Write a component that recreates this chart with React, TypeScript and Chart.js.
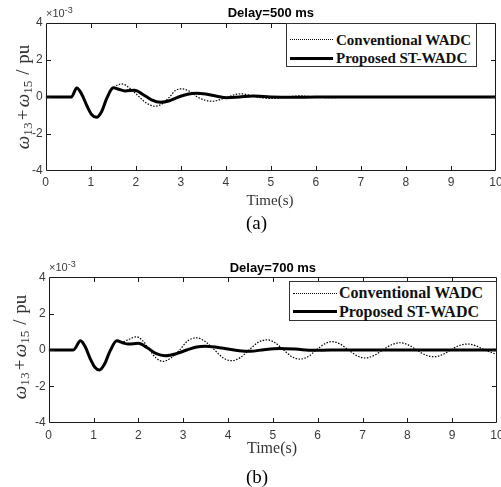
import React, { useEffect, useRef } from 'react';
import { Chart, registerables } from 'chart.js';

Chart.register(...registerables);

// ---------- data (values in units of 1e-3 pu) ----------
const xTicks = [0, 1, 2, 3, 4, 5, 6, 7, 8, 9, 10];
const yTicks = [-4, -2, 0, 2, 4];
const legendLabels = ['Conventional WADC', 'Proposed ST-WADC'];
const titleA = 'Delay=500 ms';
const titleB = 'Delay=700 ms';
const panelTagA = '(a)';
const panelTagB = '(b)';
const xLabel = 'Time(s)';

const timeConvA = [0, 0.57, 0.69, 0.8, 0.92, 1.02, 1.13, 1.24, 1.36, 1.45, 1.52, 1.6, 1.69, 1.8, 1.95, 2.1, 2.25, 2.43, 2.6, 2.75, 2.88, 3.02, 3.2, 3.37, 3.55, 3.72, 3.9, 4.05, 4.2, 4.36, 4.55, 4.7, 5.0, 5.35, 5.65, 6.0, 6.35, 6.7, 7.1, 7.5, 10];
const convA = [0, 0, 0.49, 0.15, -0.5, -0.95, -1.1, -0.8, -0.05, 0.35, 0.5, 0.66, 0.71, 0.6, 0.3, -0.05, -0.35, -0.5, -0.35, 0, 0.35, 0.44, 0.3, 0, -0.18, -0.23, -0.12, 0, 0.13, 0.17, 0.08, 0, -0.08, 0, 0.06, 0, -0.04, 0, 0.02, 0, 0];

const timePropA = [0, 0.57, 0.69, 0.8, 0.92, 1.02, 1.13, 1.24, 1.36, 1.5, 1.62, 1.76, 1.98, 2.15, 2.35, 2.55, 2.75, 2.95, 3.15, 3.35, 3.55, 3.8, 4.02, 4.3, 4.6, 5.0, 5.5, 6.0, 10];
const propA = [0, 0, 0.49, 0.15, -0.5, -0.95, -1.1, -0.8, -0.05, 0.5, 0.42, 0.33, 0.36, 0.15, -0.15, -0.28, -0.2, 0, 0.15, 0.2, 0.16, 0.04, -0.04, 0, 0.05, 0, -0.02, 0, 0];

const timeConvB = [0, 0.55, 0.71, 0.82, 0.93, 1.03, 1.13, 1.24, 1.37, 1.52, 1.64, 1.8, 1.96, 2.1, 2.25, 2.4, 2.55, 2.72, 2.92, 3.1, 3.3, 3.5, 3.7, 3.9, 4.08, 4.27, 4.47, 4.67, 4.87, 5.05, 5.24, 5.43, 5.61, 5.79, 5.97, 6.15, 6.32, 6.5, 6.69, 6.88, 7.06, 7.25, 7.45, 7.65, 7.84, 8.02, 8.21, 8.4, 8.6, 8.78, 8.97, 9.15, 9.35, 9.53, 9.72, 10];
const convB = [0, 0, 0.51, 0.15, -0.5, -0.95, -1.1, -0.8, -0.05, 0.51, 0.45, 0.6, 0.73, 0.5, 0, -0.45, -0.63, -0.45, 0, 0.5, 0.67, 0.45, 0, -0.45, -0.59, -0.42, 0, 0.42, 0.56, 0.4, 0, -0.38, -0.5, -0.36, 0, 0.33, 0.46, 0.33, 0, -0.32, -0.44, -0.31, 0, 0.29, 0.4, 0.28, 0, -0.27, -0.37, -0.26, 0, 0.24, 0.33, 0.23, 0, -0.25];

const timePropB = [0, 0.55, 0.71, 0.82, 0.93, 1.03, 1.13, 1.24, 1.37, 1.52, 1.65, 1.78, 2.0, 2.2, 2.4, 2.6, 2.85, 3.08, 3.3, 3.49, 3.75, 4.0, 4.25, 4.5, 4.8, 5.15, 5.5, 5.9, 6.3, 10];
const propB = [0, 0, 0.51, 0.15, -0.5, -0.95, -1.1, -0.8, -0.05, 0.51, 0.4, 0.33, 0.37, 0.12, -0.2, -0.31, -0.2, 0, 0.17, 0.21, 0.15, 0.05, -0.04, -0.07, 0.02, 0.08, 0.05, -0.02, 0, 0];

// ---------- chart helpers ----------
const tickFont = { family: '"Liberation Sans", Arial, sans-serif', size: 12 };
const tickColor = '#3a3a3a';

const framePlugin = {
  id: 'matlabFrame',
  afterDatasetsDraw(chart: any) {
    const { ctx, chartArea: a, scales } = chart;
    const L = Math.round(a.left) + 0.5;
    const R = Math.round(a.right) - 0.5;
    const T = Math.round(a.top) + 0.5;
    const B = Math.round(a.bottom) - 0.5;
    ctx.save();
    ctx.strokeStyle = '#1a1a1a';
    ctx.lineWidth = 1;
    ctx.beginPath();
    ctx.rect(L, T, R - L, B - T);
    const tl = 4.5;
    xTicks.forEach((v) => {
      const px = Math.round(scales.x.getPixelForValue(v)) + 0.5;
      if (v === xTicks[0] || v === xTicks[xTicks.length - 1]) return;
      ctx.moveTo(px, B);
      ctx.lineTo(px, B - tl);
      ctx.moveTo(px, T);
      ctx.lineTo(px, T + tl);
    });
    yTicks.forEach((v) => {
      const py = Math.round(scales.y.getPixelForValue(v)) + 0.5;
      if (v === yTicks[0] || v === yTicks[yTicks.length - 1]) return;
      ctx.moveTo(L, py);
      ctx.lineTo(L + tl, py);
      ctx.moveTo(R, py);
      ctx.lineTo(R - tl, py);
    });
    ctx.stroke();
    ctx.restore();
  },
};

type Panel = {
  title: string;
  tConv: number[];
  conv: number[];
  tProp: number[];
  prop: number[];
  yW: number;
  xH: number;
  padRight: number;
  tTop: number;
  tBot: number;
  xPad: number;
};

function makeConfig(p: Panel): any {
  return {
    type: 'line',
    data: {
      datasets: [
        {
          label: legendLabels[0],
          data: p.tConv.map((t, i) => ({ x: t, y: p.conv[i] })),
          borderColor: '#000',
          borderWidth: 1.2,
          borderDash: [1.5, 1.5],
          pointRadius: 0,
          cubicInterpolationMode: 'monotone',
          fill: false,
        },
        {
          label: legendLabels[1],
          data: p.tProp.map((t, i) => ({ x: t, y: p.prop[i] })),
          borderColor: '#000',
          borderWidth: 3,
          pointRadius: 0,
          cubicInterpolationMode: 'monotone',
          fill: false,
        },
      ],
    },
    options: {
      responsive: false,
      animation: false,
      events: [],
      layout: { padding: { left: 0, right: p.padRight, top: 0, bottom: 0 } },
      plugins: {
        legend: { display: false },
        tooltip: { enabled: false },
        title: {
          display: true,
          text: p.title,
          fullSize: false,
          color: '#000',
          font: { family: '"Liberation Sans", Arial, sans-serif', size: 13, weight: 'bold', lineHeight: 1.2 },
          padding: { top: p.tTop, bottom: p.tBot },
        },
      },
      scales: {
        x: {
          type: 'linear',
          min: 0,
          max: 10,
          grid: { display: false, drawTicks: false },
          border: { display: false },
          afterBuildTicks: (s: any) => {
            s.ticks = xTicks.map((v) => ({ value: v }));
          },
          ticks: { font: tickFont, color: tickColor, padding: p.xPad, maxRotation: 0, autoSkip: false },
          afterFit: (s: any) => {
            s.height = p.xH;
            s.paddingLeft = 0;
            s.paddingRight = 0;
          },
        },
        y: {
          type: 'linear',
          min: -4,
          max: 4,
          grid: { display: false, drawTicks: false },
          border: { display: false },
          afterBuildTicks: (s: any) => {
            s.ticks = yTicks.map((v) => ({ value: v }));
          },
          ticks: { font: tickFont, color: tickColor, padding: 3 },
          afterFit: (s: any) => {
            s.width = p.yW;
            s.paddingTop = 0;
            s.paddingBottom = 0;
          },
        },
      },
    },
    plugins: [framePlugin],
  };
}

function ChartCanvas({ panel, top, height }: { panel: Panel; top: number; height: number }) {
  const ref = useRef<HTMLCanvasElement | null>(null);
  useEffect(() => {
    if (!ref.current) return;
    const chart = new Chart(ref.current, makeConfig(panel));
    return () => chart.destroy();
  }, []);
  return (
    <canvas
      ref={ref}
      width={501}
      height={height}
      style={{ position: 'absolute', left: 0, top, width: 501, height }}
    />
  );
}

const serif = '"Liberation Serif", "Times New Roman", serif';
const sans = '"Liberation Sans", Arial, sans-serif';

function YLabel({ cx, cy, size }: { cx: number; cy: number; size: number }) {
  const sub: React.CSSProperties = { fontSize: '0.7em', verticalAlign: '-0.3em', lineHeight: 0, fontStyle: 'normal' };
  return (
    <div
      style={{
        position: 'absolute',
        left: cx,
        top: cy,
        transform: 'translate(-50%, -50%) rotate(-90deg)',
        whiteSpace: 'nowrap',
        fontFamily: serif,
        fontSize: size,
        color: '#333',
        lineHeight: 1,
      }}
    >
      <i>ω</i>
      <span style={sub}>13</span>
      <span style={{ margin: '0 0.12em' }}>+</span>
      <i>ω</i>
      <span style={sub}>15</span>
      <span style={{ margin: '0 0.3em' }}>/</span>
      pu
    </div>
  );
}

function Exponent({ left, top }: { left: number; top: number }) {
  return (
    <div style={{ position: 'absolute', left, top, fontFamily: sans, fontSize: 11, color: tickColor, lineHeight: 1, whiteSpace: 'nowrap' }}>
      ×10<span style={{ fontSize: 9, verticalAlign: '0.45em', lineHeight: 0 }}>-3</span>
    </div>
  );
}

function CenterText({ cx, cy, size, text, color }: { cx: number; cy: number; size: number; text: string; color: string }) {
  return (
    <div
      style={{
        position: 'absolute',
        left: cx,
        top: cy,
        transform: 'translate(-50%, -50%)',
        whiteSpace: 'nowrap',
        fontFamily: serif,
        fontSize: size,
        color,
        lineHeight: 1,
      }}
    >
      {text}
    </div>
  );
}

function LegendBox({
  left,
  top,
  width,
  height,
  rowY,
  lineX,
  lineW,
  textX,
  size,
}: {
  left: number;
  top: number;
  width: number;
  height: number;
  rowY: number[];
  lineX: number;
  lineW: number;
  textX: number;
  size: number;
}) {
  return (
    <div
      style={{
        position: 'absolute',
        left,
        top,
        width,
        height,
        boxSizing: 'border-box',
        border: '1px solid #333',
        background: '#fff',
      }}
    >
      {legendLabels.map((lab, i) => (
        <React.Fragment key={lab}>
          <div
            style={{
              position: 'absolute',
              left: lineX,
              top: rowY[i] - (i === 0 ? 0.5 : 1.5),
              width: lineW,
              height: 0,
              borderTop: i === 0 ? '1px dotted #000' : '3px solid #000',
            }}
          />
          <div
            style={{
              position: 'absolute',
              left: textX,
              top: rowY[i],
              transform: 'translateY(-50%)',
              whiteSpace: 'nowrap',
              fontFamily: serif,
              fontWeight: 'bold',
              fontSize: size,
              lineHeight: 1,
              color: '#111',
            }}
          >
            {lab}
          </div>
        </React.Fragment>
      ))}
    </div>
  );
}

const panelA: Panel = {
  title: titleA,
  tConv: timeConvA,
  conv: convA,
  tProp: timePropA,
  prop: propA,
  yW: 45.7,
  xH: 69,
  padRight: 5,
  tTop: 5.6,
  tBot: 1.8,
  xPad: 4,
};

const panelB: Panel = {
  title: titleB,
  tConv: timeConvB,
  conv: convB,
  tProp: timePropB,
  prop: propB,
  yW: 48.7,
  xH: 64.3,
  padRight: 4,
  tTop: 20.2,
  tBot: 1.5,
  xPad: 6,
};

export default function App() {
  return (
    <div style={{ position: 'fixed', left: 0, top: 0, width: 501, height: 487, background: '#fff', overflow: 'hidden' }}>
      <ChartCanvas panel={panelA} top={0} height={240} />
      <ChartCanvas panel={panelB} top={240} height={247} />

      <Exponent left={46} top={8} />
      <Exponent left={49} top={262} />

      <YLabel cx={22} cy={97} size={19} />
      <YLabel cx={19} cy={347} size={19} />

      <LegendBox left={286} top={23} width={191} height={44} rowY={[15.5, 34]} lineX={3} lineW={43} textX={49} size={15} />
      <LegendBox left={289} top={281} width={208} height={40} rowY={[11, 29.5]} lineX={3} lineW={44} textX={49} size={16} />

      <CenterText cx={270} cy={200} size={15} text={xLabel} color="#333" />
      <CenterText cx={256.5} cy={221.5} size={19} text={panelTagA} color="#000" />
      <CenterText cx={272} cy={448} size={16} text={xLabel} color="#333" />
      <CenterText cx={257} cy={476} size={19} text={panelTagB} color="#000" />
    </div>
  );
}
